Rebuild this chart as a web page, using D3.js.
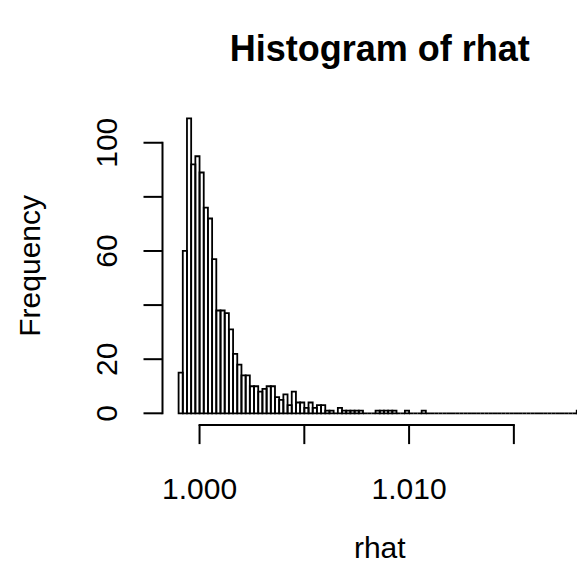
<!DOCTYPE html>
<html>
<head>
<meta charset="utf-8">
<script src="https://cdn.jsdelivr.net/npm/d3@7"></script>
<style>
  html, body { margin: 0; padding: 0; background: #fff; overflow: hidden; }
  svg { display: block; }
  text { font-family: "Liberation Sans", Arial, Helvetica, sans-serif; fill: #000; }
</style>
</head>
<body>
<script>
// ---- data ----
const binStart = 0.999;
const binWidth = 0.0002;
const counts = [
  15, 60, 109, 92, 95, 89, 76, 72, 57, 38,
  38, 37, 31, 22, 18, 14, 14, 10, 10, 8,
  9, 10, 10, 6, 5, 7, 3, 8, 4, 4,
  2, 4, 2, 3, 3, 1, 1, 0, 2, 1,
  1, 1, 1, 1, 0, 0, 0, 1, 1, 1,
  1, 1, 0, 0, 1, 0, 0, 0, 1, 0,
  0, 0, 0, 0, 0, 0, 0, 0, 0, 0,
  0, 0, 0, 0, 0, 0, 0, 0, 0, 0,
  0, 0, 0, 0, 0, 0, 0, 0, 0, 0,
  0, 0, 0, 0, 0, 1
];
const xTicks = [1.000, 1.005, 1.010, 1.015];
const xTickLabels = ["1.000", "", "1.010", ""];
const yTicks = [0, 20, 40, 60, 80, 100];
const yTickLabels = ["0", "20", "", "60", "", "100"];
const titleText = "Histogram of rhat";
const xLabel = "rhat";
const yLabel = "Frequency";

// ---- layout ----
const W = 577, H = 580;
const plot = { left: 162.5, right: 597, top: 106.6, bottom: 425.1 };
const baseFont = 30;

const bins = counts.map((c, i) => ({ x0: binStart + i * binWidth, x1: binStart + (i + 1) * binWidth, n: c }));
const xMin = bins[0].x0, xMax = bins[bins.length - 1].x1;
const xPad = 0.04 * (xMax - xMin);
const yMax = d3.max(counts);
const yPad = 0.04 * yMax;

const x = d3.scaleLinear().domain([xMin - xPad, xMax + xPad]).range([plot.left, plot.right]);
const y = d3.scaleLinear().domain([-yPad, yMax + yPad]).range([plot.bottom, plot.top]);

const svg = d3.select("body").append("svg").attr("width", W).attr("height", H);
svg.append("rect").attr("width", W).attr("height", H).attr("fill", "#fff");

// bars (paths so that empty bins still show as a baseline segment)
svg.append("g").selectAll("path").data(bins).join("path")
  .attr("d", d => {
    const p = d3.path();
    p.moveTo(x(d.x0), y(0));
    p.lineTo(x(d.x0), y(d.n));
    p.lineTo(x(d.x1), y(d.n));
    p.lineTo(x(d.x1), y(0));
    p.closePath();
    return p.toString();
  })
  .attr("fill", "none")
  .attr("stroke", "#000")
  .attr("stroke-width", 1.8);

const tickLen = 19;

// x axis
const gx = svg.append("g").attr("stroke", "#000").attr("stroke-width", 2).attr("fill", "none");
gx.append("line")
  .attr("x1", x(xTicks[0])).attr("x2", x(xTicks[xTicks.length - 1]))
  .attr("y1", plot.bottom).attr("y2", plot.bottom).attr("stroke-linecap", "square");
gx.selectAll("line.tick").data(xTicks).join("line").attr("class", "tick")
  .attr("x1", d => x(d)).attr("x2", d => x(d))
  .attr("y1", plot.bottom).attr("y2", plot.bottom + tickLen);
svg.append("g").selectAll("text").data(xTicks).join("text")
  .attr("x", d => x(d)).attr("y", 499)
  .attr("text-anchor", "middle").attr("font-size", baseFont)
  .text((d, i) => xTickLabels[i]);

// y axis
const gy = svg.append("g").attr("stroke", "#000").attr("stroke-width", 2).attr("fill", "none");
gy.append("line")
  .attr("x1", plot.left).attr("x2", plot.left)
  .attr("y1", y(yTicks[0])).attr("y2", y(yTicks[yTicks.length - 1])).attr("stroke-linecap", "square");
gy.selectAll("line.tick").data(yTicks).join("line").attr("class", "tick")
  .attr("x1", plot.left - tickLen).attr("x2", plot.left)
  .attr("y1", d => y(d)).attr("y2", d => y(d));
svg.append("g").selectAll("text").data(yTicks).join("text")
  .attr("transform", d => `translate(117,${y(d)}) rotate(-90)`)
  .attr("text-anchor", "middle").attr("font-size", baseFont)
  .text((d, i) => yTickLabels[i]);

// titles
svg.append("text")
  .attr("x", (plot.left + plot.right) / 2).attr("y", 61)
  .attr("text-anchor", "middle").attr("font-size", 36).attr("font-weight", "bold")
  .text(titleText);
svg.append("text")
  .attr("x", (plot.left + plot.right) / 2).attr("y", 558)
  .attr("text-anchor", "middle").attr("font-size", baseFont)
  .text(xLabel);
svg.append("text")
  .attr("transform", `translate(40,${(plot.top + plot.bottom) / 2}) rotate(-90)`)
  .attr("text-anchor", "middle").attr("font-size", baseFont)
  .text(yLabel);
</script>
</body>
</html>
